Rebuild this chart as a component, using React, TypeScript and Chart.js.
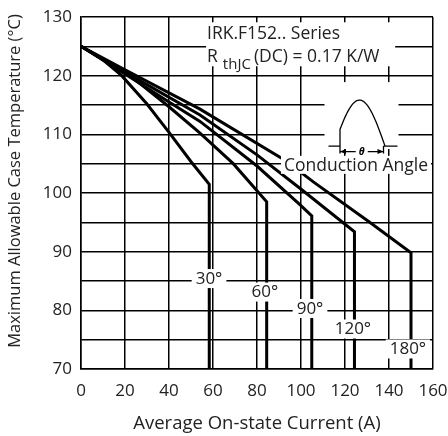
import React, { useEffect, useRef } from "react";
import { Chart, registerables } from "chart.js";
Chart.register(...registerables);

// ---- data ----
const angleLabels = ["30°", "60°", "90°", "120°", "180°"];

const current30 = [0, 10, 18.5, 29.9, 40.1, 50.3, 58.3, 58.3];
const temp30 = [125, 122.7, 120, 115.2, 110.3, 105.2, 101.5, 70];

const current60 = [0, 22.3, 40, 54.1, 69.2, 84.4, 84.4];
const temp60 = [125, 120, 114.7, 110.2, 105, 98.5, 70];

const current90 = [0, 20, 40, 54.1, 80, 99.5, 104.9, 104.9];
const temp90 = [125, 120.3, 115.5, 112.2, 104.6, 98.0, 96.1, 70];

const current120 = [0, 20, 54.1, 80, 99.5, 124.3, 124.3];
const temp120 = [125, 120.6, 113.3, 106.5, 100.8, 93.4, 70];

const current180 = [0, 20, 54.1, 92.7, 105.6, 130.6, 150, 150];
const temp180 = [125, 121, 114.3, 105.6, 101.9, 95.2, 89.8, 70];

// label anchor positions (data units)
const labelCurrent = [58.2, 83.6, 104.1, 123.6, 148.6];
const labelTemp = [85.5, 83.2, 80.4, 76.9, 73.5];

const xMin = 0, xMax = 160, xStep = 20;
const yMin = 70, yMax = 130, yGridStep = 5, yLabelStep = 10;

const seriesLine1 = "IRK.F152.. Series";
const rthMain = "R";
const rthSub = "thJC";
const rthRest = "(DC) = 0.17 K/W";
const conductionText = "Conduction Angle";
const xTitle = "Average On-state Current (A)";
const yTitle = "Maximum Allowable Case Temperature (°C)";

const FONT = '"Open Sans", "DejaVu Sans", sans-serif';

const series = [
  { c: current30, t: temp30 },
  { c: current60, t: temp60 },
  { c: current90, t: temp90 },
  { c: current120, t: temp120 },
  { c: current180, t: temp180 },
];

const annotPlugin = {
  id: "annot",
  afterDatasetsDraw(chart: any) {
    const { ctx } = chart;
    const x = chart.scales.x;
    const y = chart.scales.y;
    const X = (v: number) => x.getPixelForValue(v);
    const Y = (v: number) => y.getPixelForValue(v);
    ctx.save();

    // angle labels with white boxes
    ctx.font = `17px ${FONT}`;
    ctx.textAlign = "center";
    ctx.textBaseline = "middle";
    angleLabels.forEach((t, i) => {
      const px = X(labelCurrent[i]);
      const py = Y(labelTemp[i]);
      const w = ctx.measureText(t).width;
      ctx.fillStyle = "#fff";
      ctx.fillRect(px - w / 2 - 4, py - 9, w + 8, 19);
      ctx.fillStyle = "#222";
      ctx.fillText(t, px, py + 1);
    });

    // title box
    const tx = X(57.3);
    const tTop = Y(129.1);
    ctx.fillStyle = "#fff";
    ctx.fillRect(tx - 1, tTop, X(142.8) - tx + 1, Y(121.6) - tTop);
    ctx.fillStyle = "#222";
    ctx.textAlign = "left";
    ctx.font = `17.5px ${FONT}`;
    ctx.fillText(seriesLine1, tx, Y(127.1));
    const l2 = Y(123.2);
    ctx.fillText(rthMain, tx, l2);
    let cx = tx + ctx.measureText(rthMain).width + 5;
    ctx.font = `15px ${FONT}`;
    ctx.fillText(rthSub, cx, l2 + 8);
    cx += ctx.measureText(rthSub).width + 3;
    ctx.font = `17.5px ${FONT}`;
    ctx.fillText(rthRest, cx, l2);

    // inset box
    const ix0 = X(112.5);
    const iy0 = Y(108);
    ctx.fillStyle = "#fff";
    ctx.fillRect(ix0 - 4, Y(118.9), 74, iy0 + 3 - Y(118.9));
    ctx.strokeStyle = "#000";
    ctx.lineWidth = 1.3;
    ctx.beginPath();
    ctx.moveTo(ix0, iy0);
    ctx.lineTo(ix0 + 11.5, iy0);
    ctx.moveTo(ix0 + 55, iy0);
    ctx.lineTo(ix0 + 69, iy0);
    ctx.stroke();
    // waveform
    ctx.beginPath();
    const s0 = ix0 + 5.5, s1 = ix0 + 56.5, H = 46;
    ctx.moveTo(ix0 + 11.5, iy0);
    for (let k = 0; k <= 40; k++) {
      const px = ix0 + 11.5 + ((s1 - (ix0 + 11.5)) * k) / 40;
      const py = iy0 - H * Math.sin((Math.PI * (px - s0)) / (s1 - s0));
      ctx.lineTo(px, py);
    }
    ctx.stroke();
    // conduction angle arrows
    const ay = iy0 + 5.5;
    const aL = ix0 + 11.5, aR = ix0 + 55;
    const mid = (aL + aR) / 2;
    ctx.beginPath();
    ctx.moveTo(aL, iy0); ctx.lineTo(aL, ay + 2);
    ctx.moveTo(aR, iy0); ctx.lineTo(aR, ay + 2);
    ctx.moveTo(aL, ay); ctx.lineTo(mid - 6, ay);
    ctx.moveTo(mid + 6, ay); ctx.lineTo(aR, ay);
    ctx.stroke();
    ctx.fillStyle = "#000";
    ctx.beginPath();
    ctx.moveTo(aL, ay); ctx.lineTo(aL + 6, ay - 2.5); ctx.lineTo(aL + 6, ay + 2.5); ctx.closePath();
    ctx.moveTo(aR, ay); ctx.lineTo(aR - 6, ay - 2.5); ctx.lineTo(aR - 6, ay + 2.5); ctx.closePath();
    ctx.fill();
    ctx.font = `italic bold 10px ${FONT}`;
    ctx.textAlign = "center";
    ctx.fillText("θ", mid, ay + 1);

    // conduction angle text
    ctx.font = `17.5px ${FONT}`;
    const cw = ctx.measureText(conductionText).width;
    const ccx = X(125);
    const ccy = Y(104.8);
    ctx.fillStyle = "#fff";
    ctx.fillRect(ccx - cw / 2 - 3, ccy - 9, cw + 6, 18);
    ctx.fillStyle = "#222";
    ctx.fillText(conductionText, ccx, ccy + 1);

    // axis titles
    ctx.font = `18.5px ${FONT}`;
    ctx.fillStyle = "#222";
    ctx.textAlign = "center";
    ctx.fillText(xTitle, (chart.chartArea.left + chart.chartArea.right) / 2, 424);
    ctx.font = `16.5px ${FONT}`;
    ctx.translate(15, 181);
    ctx.rotate(-Math.PI / 2);
    ctx.fillText(yTitle, 0, 0);
    ctx.restore();
  },
};

export default function App() {
  const ref = useRef<HTMLCanvasElement | null>(null);
  useEffect(() => {
    document.body.style.margin = "0";
    if (!ref.current) return;
    const chart = new Chart(ref.current, {
      type: "scatter",
      data: {
        datasets: series.map((s, i) => ({
          label: angleLabels[i],
          data: s.c.map((c, k) => ({ x: c, y: s.t[k] })),
          showLine: true,
          borderColor: "#000",
          borderWidth: 3,
          borderJoinStyle: "miter" as const,
          pointRadius: 0,
          tension: 0,
          fill: false,
        })),
      },
      options: {
        animation: false,
        responsive: true,
        maintainAspectRatio: false,
        layout: { padding: { top: 17, right: 15, left: 0, bottom: 0 } },
        plugins: { legend: { display: false }, tooltip: { enabled: false } },
        scales: {
          x: {
            type: "linear",
            min: xMin,
            max: xMax,
            afterFit: (s: any) => { s.height = 67; s.paddingLeft = 0; s.paddingRight = 0; },
            ticks: { stepSize: xStep, color: "#222", font: { family: FONT, size: 17 }, padding: 12, maxRotation: 0 },
            grid: { color: "#000", lineWidth: 1.5, drawTicks: false },
            border: { color: "#000", width: 1.5 },
          },
          y: {
            type: "linear",
            min: yMin,
            max: yMax,
            afterFit: (s: any) => { s.width = 81; s.paddingTop = 0; s.paddingBottom = 0; },
            ticks: {
              stepSize: yGridStep,
              color: "#222",
              font: { family: FONT, size: 17 },
              padding: 9,
              callback: (v: any) => (Number(v) % yLabelStep === 0 ? String(v) : ""),
            },
            grid: { color: "#000", lineWidth: 1.5, drawTicks: false },
            border: { color: "#000", width: 1.5 },
          },
        },
      },
      plugins: [annotPlugin],
    });
    return () => chart.destroy();
  }, []);
  return (
    <div style={{ width: 448, height: 436, position: "relative" }}>
      <canvas ref={ref} />
    </div>
  );
}
